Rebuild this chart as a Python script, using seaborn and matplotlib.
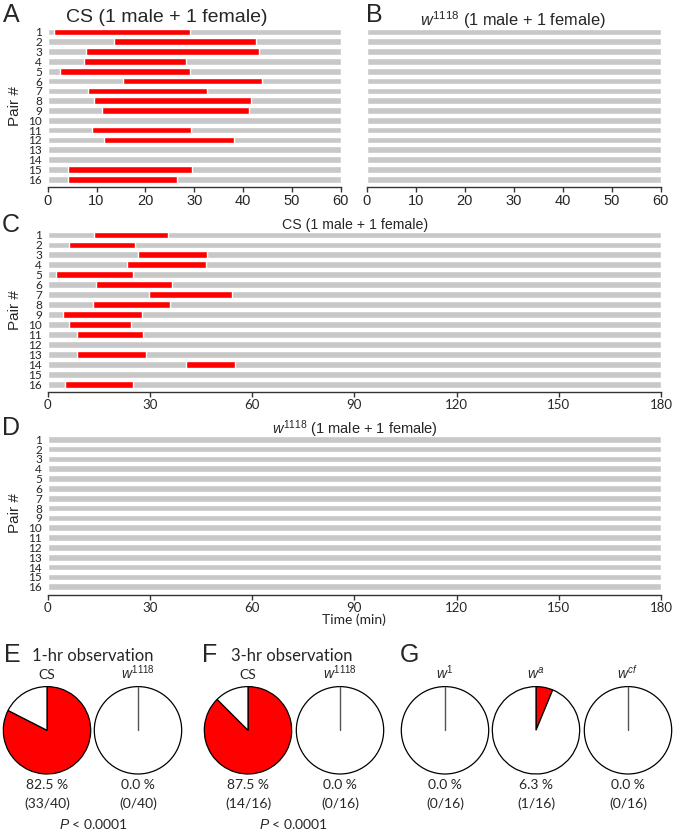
import numpy as np
import pandas as pd
import matplotlib
matplotlib.use("Agg")
import matplotlib.pyplot as plt
import seaborn as sns

W, H = 675, 832
GRAY = "#c8c8c8"
RED = "#ff0000"
ARIAL = ["Liberation Sans", "DejaVu Sans"]
CALIB = ["Lato", "DejaVu Sans"]

pairs = [str(i) for i in range(1, 17)]
nan = np.nan

# A: CS, 1-hr observation (copulation start / end, min)
a_start = [1.3, 13.5, 7.8, 7.4, 2.5, 15.4, 8.2, 9.4, 11.1, nan, 9.1, 11.6, nan, nan, 4.2, 4.2]
a_end = [29.1, 42.7, 43.3, 28.3, 29.1, 43.8, 32.7, 41.6, 41.2, nan, 29.4, 38.2, nan, nan, 29.6, 26.4]
# B: w1118, 1-hr -> no copulation
b_start = [nan] * 16
b_end = [nan] * 16
# C: CS, 3-hr observation
c_start = [13.5, 6.3, 26.5, 23.3, 2.3, 14.3, 29.7, 13.2, 4.6, 6.3, 8.5, nan, 8.5, 40.6, nan, 5.1]
c_end = [35.2, 25.7, 46.9, 46.6, 25.1, 36.6, 54.2, 35.9, 27.6, 24.5, 28.0, nan, 28.8, 54.9, nan, 24.9]
# D: w1118, 3-hr -> no copulation
d_start = [nan] * 16
d_end = [nan] * 16

ticks_1h = [0, 10, 20, 30, 40, 50, 60]
ticks_3h = [0, 30, 60, 90, 120, 150, 180]

# pies E-G
pie_names = [r"CS", r"$\mathit{w}^{\mathit{1118}}$", r"CS", r"$\mathit{w}^{\mathit{1118}}$",
             r"$\mathit{w}^{\mathit{1}}$", r"$\mathit{w}^{\mathit{a}}$", r"$\mathit{w}^{\mathit{cf}}$"]
pie_yes = [33, 0, 14, 0, 0, 1, 0]
pie_total = [40, 40, 16, 16, 16, 16, 16]
pie_pct = ["82.5 %", "0.0 %", "87.5 %", "0.0 %", "0.0 %", "6.3 %", "0.0 %"]

sns.set_style("white")
plt.rcParams["font.family"] = ARIAL
plt.rcParams["mathtext.fontset"] = "custom"
plt.rcParams["mathtext.it"] = "Liberation Sans:italic"
plt.rcParams["mathtext.rm"] = "Liberation Sans"

fig = plt.figure(figsize=(W / 100, H / 100), dpi=100)


def rect(l, t, r, b):
    return [l / W, 1 - b / H, (r - l) / W, (b - t) / H]


def txt(x, y, s, **kw):
    fig.text(x / W, 1 - y / H, s, **kw)


def bar_panel(box, tmax, xticks, starts, ends, tick_font, tick_size, ylabels=True):
    ax = fig.add_axes(rect(*box))
    df = pd.DataFrame({"pair": pairs, "full": [tmax] * 16})
    sns.barplot(data=df, x="full", y="pair", orient="h", color=GRAY,
                saturation=1, width=0.68, ax=ax)
    s = np.array(starts, dtype=float)
    e = np.array(ends, dtype=float)
    ok = ~np.isnan(s)
    ax.barh(np.arange(16)[ok], (e - s)[ok], left=s[ok], height=0.68, color=RED)
    ax.set_xlim(0, tmax)
    ax.set_ylim(15.8, -0.6)
    ax.set_xticks(xticks)
    ax.set_xlabel("")
    ax.set_ylabel("")
    for sp in ["left", "top", "right"]:
        ax.spines[sp].set_visible(False)
    ax.spines["bottom"].set_color("#333333")
    ax.spines["bottom"].set_linewidth(1)
    ax.tick_params(axis="y", length=0, pad=4, labelleft=ylabels)
    ax.tick_params(axis="x", direction="out", length=3.5, width=1,
                   color="#333333", pad=1.5, bottom=True)
    for t in ax.get_yticklabels():
        t.set_fontfamily(CALIB)
        t.set_fontsize(8.5)
    for t in ax.get_xticklabels():
        t.set_fontfamily(tick_font)
        t.set_fontsize(tick_size)
    return ax


bar_panel((47.7, 26.1, 340.7, 187.1), 60, ticks_1h, a_start, a_end, ARIAL, 10.5)
bar_panel((366.7, 26.1, 660.7, 187.1), 60, ticks_1h, b_start, b_end, ARIAL, 10.5, ylabels=False)
bar_panel((47.7, 229.0, 661.0, 392.2), 180, ticks_3h, c_start, c_end, CALIB, 9.5)
bar_panel((47.7, 433.4, 661.0, 594.6), 180, ticks_3h, d_start, d_end, CALIB, 9.5)

# titles and panel letters
txt(167, 17, "CS (1 male + 1 female)", ha="center", va="center", fontsize=14)
txt(513, 20, r"$\mathit{w}^{\mathit{1118}}$ (1 male + 1 female)", ha="center", va="center", fontsize=11.8)
txt(355, 225, "CS (1 male + 1 female)", ha="center", va="center", fontsize=10.2)
txt(354.5, 429, r"$\mathit{w}^{\mathit{1118}}$ (1 male + 1 female)", ha="center", va="center", fontsize=10.5)
txt(354, 620, "Time (min)", ha="center", va="center", fontsize=10, family=CALIB)

for lx, ly, lab in [(3, 21.7, "A"), (366, 21.7, "B"), (1.5, 231.5, "C"), (1.5, 435, "D"),
                    (4, 662.5, "E"), (202, 662.5, "F"), (400, 662.5, "G")]:
    txt(lx, ly, lab, ha="left", va="baseline", fontsize=18)

for yc in [106, 309.6, 513]:
    txt(15, yc, "Pair #", ha="center", va="center", rotation=90, fontsize=11)

txt(32, 661, "1-hr observation", ha="left", va="baseline", fontsize=12, family=CALIB)
txt(231, 661, "3-hr observation", ha="left", va="baseline", fontsize=12, family=CALIB)

# pies
pie_cx = [47, 138, 248, 340, 445, 536, 628]
pie_cy = 730.3
r = 43.7
for cx, name, yes, tot, pct in zip(pie_cx, pie_names, pie_yes, pie_total, pie_pct):
    ax = fig.add_axes(rect(cx - r - 1, pie_cy - r - 1, cx + r + 1, pie_cy + r + 1))
    ax.pie([yes, tot - yes], colors=[RED, "white"], startangle=90, counterclock=False,
           radius=1, wedgeprops=dict(edgecolor="black", linewidth=0.9))
    if yes == 0:
        # zero-size wedge: only its edge from the centre to the start angle
        a = np.deg2rad(90)
        ax.plot([0, np.cos(a)], [0, np.sin(a)], color="#555555", lw=1)
    ax.set_xlim(-1.023, 1.023)
    ax.set_ylim(-1.023, 1.023)
    txt(cx, 679, name, ha="center", va="baseline", fontsize=10, family=CALIB)
    txt(cx, 785, pct, ha="center", va="center", fontsize=10, family=CALIB)
    txt(cx, 804, f"({yes}/{tot})", ha="center", va="center", fontsize=10, family=CALIB)

txt(93, 824, r"$\mathit{P}$ < 0.0001", ha="center", va="center", fontsize=10, family=CALIB)
txt(293, 824, r"$\mathit{P}$ < 0.0001", ha="center", va="center", fontsize=10, family=CALIB)

fig.savefig("out.png", dpi=100)
